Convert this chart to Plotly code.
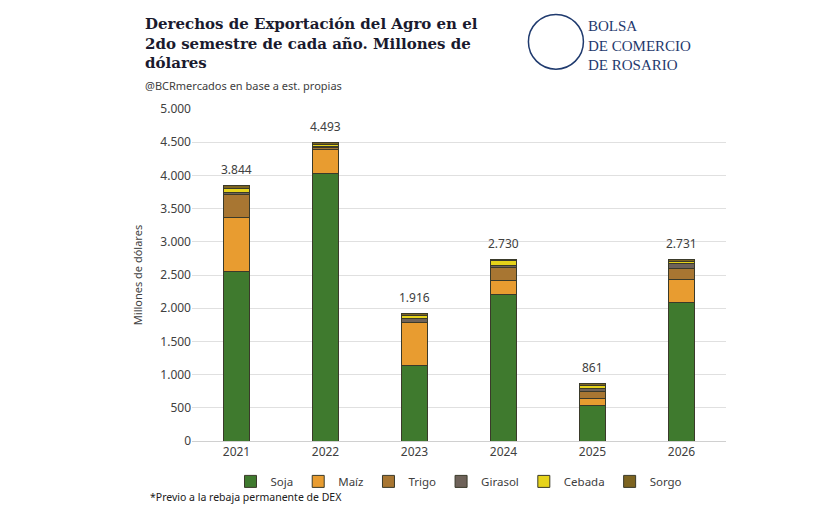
import plotly.graph_objects as go

years = ["2021", "2022", "2023", "2024", "2025", "2026"]
totals = [3844, 4493, 1916, 2730, 861, 2731]
soja = [2550, 4025, 1130, 2200, 540, 2080]
maiz = [810, 370, 650, 210, 100, 345]
trigo = [355, 20, 10, 200, 105, 180]
girasol = [35, 25, 50, 40, 45, 75]
cebada = [55, 30, 50, 65, 45, 30]
sorgo = [39, 23, 26, 15, 26, 21]

series = [("Soja", soja, "#3f7a2e"), ("Maíz", maiz, "#e89c30"), ("Trigo", trigo, "#a87632"),
          ("Girasol", girasol, "#6e6259"), ("Cebada", cebada, "#e6d31a"), ("Sorgo", sorgo, "#7d6420")]

fig = go.Figure()
for name, vals, col in series:
    fig.add_trace(go.Bar(x=years, y=vals, name=name, marker=dict(color=col, line=dict(color="#3a3a2a", width=1)), width=0.3))

def fmt(v):
    return f"{v:,}".replace(",", ".")

for i, t in enumerate(totals):
    fig.add_annotation(x=i, y=t, text=fmt(t), showarrow=False, yanchor="bottom", yshift=6,
                       font=dict(size=12, color="#404040"))

ticks = list(range(0, 5001, 500))
fig.update_layout(
    barmode="stack", width=822, height=513, plot_bgcolor="white", paper_bgcolor="white",
    margin=dict(l=184, r=104, t=101, b=80),
    font=dict(family="Noto Sans", color="#404040"),
    yaxis=dict(range=[0, 5000], tickvals=ticks, ticktext=[fmt(t) for t in ticks], gridcolor="#e0e0e0",
               tickfont=dict(size=12), title=dict(text="Millones de dólares", font=dict(size=11)), zeroline=False),
    xaxis=dict(type="category", range=[-0.5, len(years) - 0.5], tickfont=dict(size=12), showline=True, linecolor="#d0d0d0"),
    legend=dict(orientation="h", x=0.5, xanchor="center", y=-0.078, yanchor="top", font=dict(size=11.5), traceorder="normal"),
)
fig.add_annotation(text="<b>Derechos de Exportación del Agro en el<br>2do semestre de cada año. Millones de<br>dólares</b>",
                   xref="paper", yref="paper", x=-0.092, y=1.29, xanchor="left", yanchor="top", align="left", showarrow=False,
                   font=dict(family="DejaVu Serif", size=15, color="#1a1a2e"))
fig.add_annotation(text="@BCRmercados en base a est. propias", xref="paper", yref="paper", x=-0.092, y=1.072,
                   xanchor="left", yanchor="middle", showarrow=False, font=dict(size=11, color="#404040"))
fig.add_annotation(text="BOLSA<br>DE COMERCIO<br>DE ROSARIO", xref="paper", yref="paper", x=0.738, y=1.28, xanchor="left",
                   yanchor="top", align="left", showarrow=False, font=dict(family="Liberation Serif", size=15, color="#1f3a6e"))
fig.add_shape(type="circle", xref="paper", yref="paper", x0=0.63, x1=0.733, y0=1.12, y1=1.285,
              line=dict(color="#1f3a6e", width=1.5))
fig.add_annotation(text="*Previo a la rebaja permanente de DEX", xref="paper", yref="paper", x=-0.083, y=-0.143,
                   xanchor="left", yanchor="top", showarrow=False, font=dict(size=10.5, color="#202020"))
fig.write_html("out.html")
